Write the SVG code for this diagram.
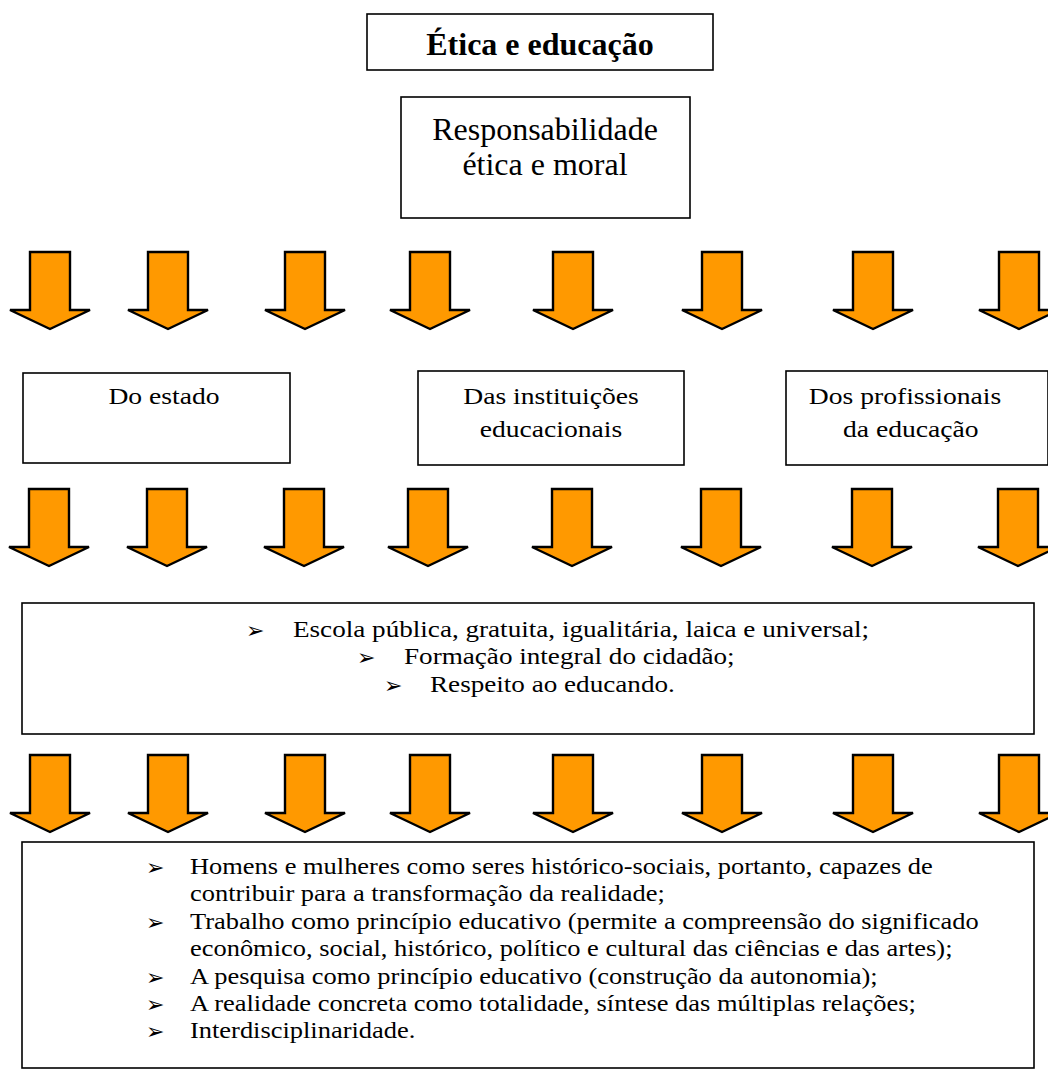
<svg xmlns="http://www.w3.org/2000/svg" xmlns:xlink="http://www.w3.org/1999/xlink" width="1048" height="1071" viewBox="0 0 1048 1071">
<style>
.box{fill:#fff;stroke:#000;stroke-width:1.6}
.t{font-family:"Liberation Serif","Times New Roman",serif;fill:#000}
.b{font-family:"DejaVu Sans","Liberation Serif",sans-serif;fill:#000}
.arr{fill:#FF9900;stroke:#000;stroke-width:2.4;stroke-linejoin:miter}
</style>
<defs>
<path id="ar" class="arr" d="M-20,-77 H20 V-19 H40 L0,0 L-40,-19 H-20 Z"/>
</defs>
<rect width="1048" height="1071" fill="#fff"/>
<g id="title">
<rect class="box" x="367" y="14" width="346" height="56"/>
<text class="t" x="540" y="55" font-size="32" font-weight="bold" text-anchor="middle">Ética e educação</text>
</g>
<g id="responsabilidade">
<rect class="box" x="401" y="97" width="289" height="121"/>
<text class="t" font-size="32" text-anchor="middle"><tspan x="545" y="140">Responsabilidade</tspan><tspan x="545" y="175">ética e moral</tspan></text>
</g>
<g id="connectors">
<use xlink:href="#ar" x="50" y="329"/><use xlink:href="#ar" x="168" y="329"/><use xlink:href="#ar" x="305" y="329"/><use xlink:href="#ar" x="430" y="329"/><use xlink:href="#ar" x="573" y="329"/><use xlink:href="#ar" x="722" y="329"/><use xlink:href="#ar" x="873" y="329"/><use xlink:href="#ar" x="1019" y="329"/>
<use xlink:href="#ar" x="49" y="566"/><use xlink:href="#ar" x="167" y="566"/><use xlink:href="#ar" x="304" y="566"/><use xlink:href="#ar" x="428" y="566"/><use xlink:href="#ar" x="572" y="566"/><use xlink:href="#ar" x="721" y="566"/><use xlink:href="#ar" x="872" y="566"/><use xlink:href="#ar" x="1018" y="566"/>
<use xlink:href="#ar" x="50" y="832"/><use xlink:href="#ar" x="168" y="832"/><use xlink:href="#ar" x="305" y="832"/><use xlink:href="#ar" x="430" y="832"/><use xlink:href="#ar" x="573" y="832"/><use xlink:href="#ar" x="722" y="832"/><use xlink:href="#ar" x="873" y="832"/><use xlink:href="#ar" x="1019" y="832"/>
</g>
<g id="estado">
<rect class="box" x="23" y="373" width="267" height="90"/>
<g transform="translate(164,0) scale(1.15,1)"><text class="t" x="0" y="404" font-size="24" text-anchor="middle">Do estado</text></g>
</g>
<g id="instituicoes">
<rect class="box" x="418" y="371" width="266" height="94"/>
<g transform="translate(551,0) scale(1.15,1)"><text class="t" font-size="24" text-anchor="middle"><tspan x="0" y="404">Das instituições</tspan><tspan x="0" y="437">educacionais</tspan></text></g>
</g>
<g id="profissionais">
<rect class="box" x="786" y="371" width="262" height="94"/>
<g transform="translate(905,0) scale(1.15,1)"><text class="t" font-size="24" text-anchor="middle"><tspan x="0" y="404">Dos profissionais</tspan><tspan x="5" y="437">da educação</tspan></text></g>
</g>
<g id="principios">
<rect class="box" x="22" y="603" width="1012" height="131"/>
<g class="b" font-size="22"><text x="246" y="638">➢</text><text x="357" y="665">➢</text><text x="384" y="693">➢</text></g>
<g transform="translate(293,0) scale(1.18,1)"><text class="t" x="0" y="637" font-size="23">Escola pública, gratuita, igualitária, laica e universal;</text></g>
<g transform="translate(404,0) scale(1.18,1)"><text class="t" x="0" y="664" font-size="23">Formação integral do cidadão;</text></g>
<g transform="translate(430,0) scale(1.18,1)"><text class="t" x="0" y="692" font-size="23">Respeito ao educando.</text></g>
</g>
<g id="fundamentos">
<rect class="box" x="22" y="842" width="1012" height="226"/>
<g class="b" font-size="22">
<text x="146" y="875">➢</text><text x="146" y="930">➢</text><text x="146" y="985">➢</text><text x="146" y="1012">➢</text><text x="146" y="1039">➢</text>
</g>
<g class="t" font-size="23" transform="translate(190,0) scale(1.15,1)">
<text x="0" y="874">Homens e mulheres como seres histórico-sociais, portanto, capazes de</text>
<text x="0" y="901">contribuir para a transformação da realidade;</text>
<text x="0" y="929">Trabalho como princípio educativo (permite a compreensão do significado</text>
<text x="0" y="956">econômico, social, histórico, político e cultural das ciências e das artes);</text>
<text x="0" y="984">A pesquisa como princípio educativo (construção da autonomia);</text>
<text x="0" y="1011">A realidade concreta como totalidade, síntese das múltiplas relações;</text>
<text x="0" y="1038">Interdisciplinaridade.</text>
</g>
</g>
</svg>
